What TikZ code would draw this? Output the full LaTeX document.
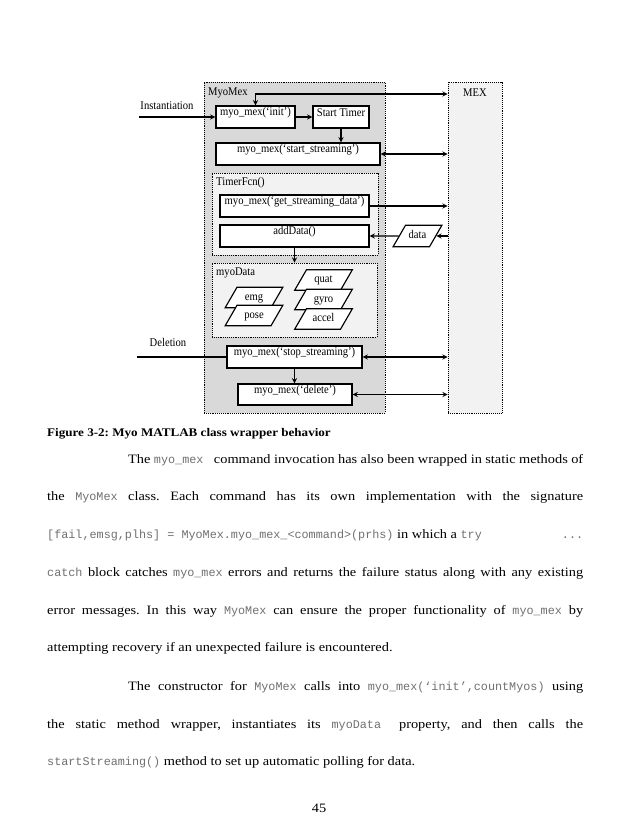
\documentclass[tikz,border=0pt]{standalone}
\usepackage{fontspec}
\setmainfont{Liberation Serif}[FakeStretch=1.12]
\setmonofont{Liberation Mono}
\newfontfamily\figfont{Liberation Serif}[FakeStretch=0.9]
\usetikzlibrary{shapes.geometric,fit}
\definecolor{outerfill}{HTML}{D9D9D9}
\definecolor{innerfill}{HTML}{F2F2F2}
\definecolor{codegray}{HTML}{707070}
\newlength{\pxu}
\setlength{\pxu}{0.9592pt}
\newcommand{\code}[1]{{\fontsize{11.3pt}{13pt}\selectfont\ttfamily\color{codegray}#1}}
\newcommand{\fullline}[2]{\makebox[#1\pxu][s]{#2}}
\frenchspacing
\begin{document}
\begin{tikzpicture}[x=0.9592pt,y=-0.9592pt,
    box/.style={draw,line width=1.3pt,fill=white,inner sep=0pt,font=\figfont\fontsize{11.3pt}{13pt}\selectfont},
    zone/.style={draw,densely dotted,line width=0.8pt,inner sep=0pt},
    datum/.style={trapezium,trapezium left angle=60,trapezium right angle=120,
        draw,line width=1.1pt,fill=white,inner xsep=0pt,inner ysep=5*\pxu,
        text width=34*\pxu,align=center,text height=8*\pxu,text depth=2.5*\pxu,
        font=\figfont\fontsize{11.3pt}{13pt}\selectfont},
    tag/.style={inner sep=0pt,font=\figfont\fontsize{11.3pt}{13pt}\selectfont},
    para/.style={anchor=base west,inner sep=0pt,font=\fontsize{12.3pt}{14pt}\selectfont},
    conn/.style={line width=1.2pt},
    >=stealth
]
\path[use as bounding box,fill=white] (0,0) rectangle (638,826);

% containers
\node[zone,fill=outerfill,fit={(204,82) (385,413)}] (myomex) {};
\node[zone,fill=innerfill,fit={(448,82) (502,413)}] (mex) {};
\node[zone,fill=innerfill,fit={(212,173) (378,255)}] (timerfcn) {};
\node[zone,fill=innerfill,fit={(212,263) (377,337)}] (myodata) {};
\node[tag,anchor=west] (myomexlbl) at (208,93) {MyoMex};
\node[tag] (mexlbl) at (475,93) {MEX};
\node[tag,anchor=west] (timerlbl) at (216,183) {TimerFcn()};
\node[tag,anchor=west] (myodatalbl) at (216,273) {myoData};

% method boxes
\node[box,fit={(216,106) (295,128)}] (init) {myo\_mex(‘init’)};
\node[box,fit={(313,106) (369,128)}] (timer) {Start Timer};
\node[box,fit={(216,143) (380,165)}] (startstr) {myo\_mex(‘start\_streaming’)};
\node[box,fit={(220,195) (369,217)}] (getdata) {myo\_mex(‘get\_streaming\_data’)};
\node[box,fit={(220,225) (369,247)}] (adddata) {addData()};
\node[box,fit={(227,346) (362,368)}] (stopstr) {myo\_mex(‘stop\_streaming’)};
\node[box,fit={(238,384) (352,405)}] (delete) {myo\_mex(‘delete’)};

% data properties
\node[datum] (emg) at (254,297.5) {emg};
\node[datum] (pose) at (254,315.5) {pose};
\node[datum] (quat) at (323.5,280) {quat};
\node[datum] (gyro) at (323.5,299.5) {gyro};
\node[datum] (accel) at (323.5,319) {accel};
\node[datum,text width=24*\pxu,inner ysep=5.5*\pxu] (data) at (417.5,236) {data};

% outside callers
\node[tag] (instlbl) at (167,106) {Instantiation};
\node[tag] (dellbl) at (168,342) {Deletion};
\coordinate (instin) at (139,117);
\coordinate (delin) at (137,357);

\draw[conn,->] (instin) -- (init.west);
\draw[conn,<->] (init.north) |- (mex.west |- 0,94);
\draw[conn,->] (init) -- (timer);
\draw[conn,->] (timer.south) -- (timer.south |- startstr.north);
\draw[conn,<->] (startstr.east) -- (startstr.east -| mex.west);
\draw[conn,->] (getdata.east) -- (getdata.east -| mex.west);
\draw[conn,->] (data.east -| mex.west) -- (data.east);
\draw[conn,->] (data.west) -- (adddata.east);
\draw[conn,->] (adddata.south) -- (adddata.south |- myodata.north);
\draw[conn] (delin) -- (stopstr.west);
\draw[conn,->] (stopstr.south) -- (stopstr.south |- delete.north);
\draw[conn,<->] (stopstr.east) -- (stopstr.east -| mex.west);
\draw[conn,<->] (delete.east) -- (delete.east -| mex.west);

% caption and body text
\node[para,font=\fontsize{11.2pt}{14pt}\selectfont\bfseries] (caption) at (47,436) {Figure 3-2: Myo MATLAB class wrapper behavior};
\node[para] (line1) at (128,463) {\fullline{455}{The \code{myo\_mex~} command invocation has also been wrapped in static methods of}};
\node[para] (line2) at (47,500) {\fullline{536}{the \code{MyoMex} class. Each command has its own implementation with the signature}};
\node[para] (line3) at (47,538) {\fullline{536}{\code{[fail,emsg,plhs] = MyoMex.myo\_mex\_<command>(prhs)} in which a \code{try}\hfill\code{...}}};
\node[para] (line4) at (47,576) {\fullline{536}{\code{catch} block catches \code{myo\_mex} errors and returns the failure status along with any existing}};
\node[para] (line5) at (47,614) {\fullline{536}{error messages. In this way \code{MyoMex} can ensure the proper functionality of \code{myo\_mex} by}};
\node[para] (line6) at (47,651) {attempting recovery if an unexpected failure is encountered.};
\node[para] (line7) at (128,690) {\fullline{455}{The constructor for \code{MyoMex} calls into \code{myo\_mex(‘init’,countMyos)} using}};
\node[para] (line8) at (47,728) {\fullline{536}{the static method wrapper, instantiates its \code{myoData~} property, and then calls the}};
\node[para] (line9) at (47,765) {\code{startStreaming()} method to set up automatic polling for data.};
\node[para,anchor=base] (pagenum) at (319,812) {45};
\end{tikzpicture}
\end{document}
